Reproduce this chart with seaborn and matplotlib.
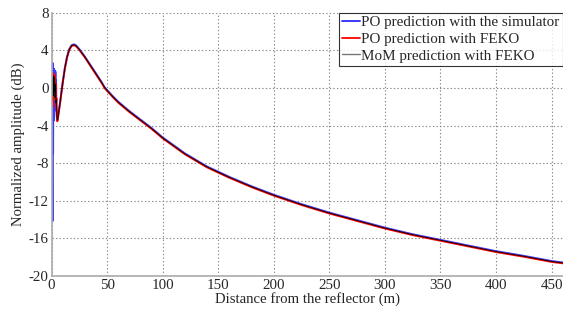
import matplotlib
matplotlib.use("Agg")
import matplotlib.pyplot as plt
import matplotlib.transforms as mtransforms
import pandas as pd
import seaborn as sns

# distance from the reflector (m) and normalized amplitude (dB)
main_x = [5.5, 8, 10, 12, 14, 16, 18, 20, 22, 25, 30, 35, 40, 45, 48, 55, 60, 70,
          80, 90, 100, 120, 140, 160, 180, 200, 225, 250, 275, 300, 325, 350, 375,
          400, 425, 450, 460]
main_y = [-3.4, -1.3, 0.5, 2.1, 3.3, 4.1, 4.5, 4.6, 4.5, 4.1, 3.3, 2.4, 1.5, 0.6,
          0.0, -0.9, -1.5, -2.5, -3.4, -4.3, -5.3, -7.0, -8.4, -9.5, -10.5, -11.4,
          -12.4, -13.3, -14.1, -14.9, -15.6, -16.2, -16.8, -17.4, -17.9, -18.45, -18.6]

sim_near_x = [0.4, 0.9, 1.1, 1.4, 1.7, 2.0, 2.3, 2.6, 2.9, 3.2, 3.5, 3.8, 4.1,
              4.4, 4.7, 5.1]
sim_near_y = [1.0, -14.2, 2.6, -7.0, 1.9, -3.5, 2.0, -2.5, 1.8, -1.5, 1.7, -1.0,
              0.8, -2.0, -3.0, -3.5]

po_near_x = [0.3, 0.6, 0.9, 1.2, 1.6, 2.0, 2.4, 2.8, 3.2, 3.6, 4.0, 4.4, 4.8, 5.2]
po_near_y = [-2.2, 0.8, -1.8, 1.2, -1.0, 1.6, -0.6, 1.4, -1.2, 0.6, -2.0, -1.0,
             -3.0, -3.5]

mom_near_x = [0.3, 0.6, 0.9, 1.2, 1.6, 2.0, 2.4, 2.8, 3.2, 3.6, 4.0, 4.4, 4.8, 5.2]
mom_near_y = [-1.5, 0.5, -1.4, 1.0, -0.8, 1.3, -0.4, 1.1, -1.0, 0.4, -1.6, -1.2,
              -2.8, -3.4]

labels = ["PO prediction with the simulator", "PO prediction with FEKO",
          "MoM prediction with FEKO"]
x_ticks = [0, 50, 100, 150, 200, 250, 300, 350, 400, 450]
y_ticks = [-20, -16, -12, -8, -4, 0, 4, 8]

frames = []
for name, nx, ny in [(labels[0], sim_near_x, sim_near_y),
                     (labels[1], po_near_x, po_near_y),
                     (labels[2], mom_near_x, mom_near_y)]:
    frames.append(pd.DataFrame({"distance": nx + main_x,
                                "amplitude": ny + main_y,
                                "series": name}))
df = pd.concat(frames, ignore_index=True)

sns.set_style("white")
plt.rcParams["font.family"] = ["Liberation Serif", "DejaVu Serif"]
plt.rcParams["axes.unicode_minus"] = False

fig = plt.figure(figsize=(5.63, 3.13), dpi=100)
ax = fig.add_axes([0.0915, 0.118, 0.908, 0.841])

styles = {
    labels[0]: dict(color="#3a3aff", lw=1.4, dy=0.45),
    labels[1]: dict(color="#ff0000", lw=1.3, dy=-0.45),
    labels[2]: dict(color="#000000", lw=0.6, dy=0.0),
}
for name in labels:
    st = styles[name]
    sub = df[df["series"] == name]
    sns.lineplot(data=sub, x="distance", y="amplitude", ax=ax, color=st["color"],
                 lw=st["lw"], label=name, sort=False, estimator=None)
    line = ax.lines[-1]
    # tiny pixel shift so the overlapping curves show as in the original
    off = mtransforms.ScaledTranslation(0, st["dy"] / 100, fig.dpi_scale_trans)
    line.set_transform(ax.transData + off)

ax.set_xlim(0, 460)
ax.set_ylim(-20, 8)
ax.set_xticks(x_ticks)
ax.set_yticks(y_ticks)
ax.set_xticklabels([str(t) for t in x_ticks])
ax.set_yticklabels([str(t) for t in y_ticks])
ax.tick_params(labelsize=10.8, length=0, pad=2)
ax.grid(True, linestyle=(0, (1.2, 2)), color="#888888", lw=0.8)
for s in ["top", "right"]:
    ax.spines[s].set_visible(False)
for s in ["left", "bottom"]:
    ax.spines[s].set_color("#aaaaaa")
    ax.spines[s].set_linewidth(1.2)

ax.set_xlabel("Distance from the reflector (m)", fontsize=10.6, labelpad=0)
ax.set_ylabel("Normalized amplitude (dB)", fontsize=10.6, labelpad=3)

leg = ax.legend(loc="upper right", fontsize=10.9, frameon=True, fancybox=False,
                borderaxespad=0, handlelength=1.2, handletextpad=0.1,
                borderpad=0.2, labelspacing=0.2)
leg.get_frame().set_edgecolor("black")
leg.get_frame().set_linewidth(0.8)
leg.get_lines()[2].set_color("#777777")
leg.get_lines()[2].set_linewidth(1.0)

fig.savefig("out.png", dpi=100, facecolor="white")
